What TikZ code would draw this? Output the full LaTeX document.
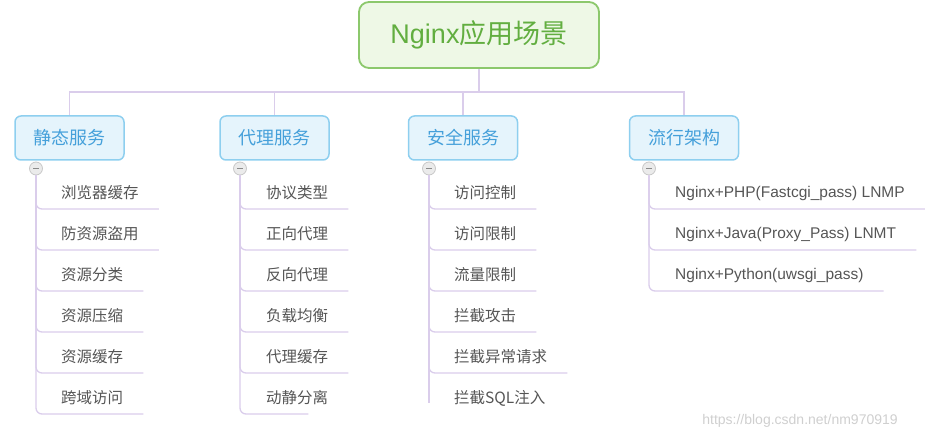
\documentclass[tikz,border=0pt]{standalone}
\usepackage{fontspec}
\setmainfont{Liberation Sans}
\newfontfamily\cjk{Noto Sans CJK SC}
\usetikzlibrary{positioning}
\definecolor{rootline}{HTML}{8CC86C}
\definecolor{rootfill}{HTML}{EEF8E6}
\definecolor{roottext}{HTML}{62AE40}
\definecolor{catline}{HTML}{8ECFEF}
\definecolor{catfill}{HTML}{E5F4FC}
\definecolor{cattext}{HTML}{45A0DA}
\definecolor{leaftext}{HTML}{555555}
\definecolor{branchcol}{HTML}{DACDEB}
\definecolor{foldline}{HTML}{C8C8C8}
\definecolor{foldfill}{HTML}{EBEBEB}
\definecolor{foldminus}{HTML}{8A8A8A}
\definecolor{marktext}{HTML}{CFCFCF}
\tikzset{
  root/.style={draw=rootline, fill=rootfill, line width=1.8pt, rounded corners=10pt,
    minimum width=240pt, minimum height=66pt, text=roottext, font=\fontsize{27}{30}\selectfont},
  cat/.style={draw=catline, fill=catfill, line width=1.5pt, rounded corners=6pt,
    minimum width=109pt, minimum height=44pt, text=cattext, font=\cjk\fontsize{18}{20}\selectfont},
  leaf/.style={anchor=west, inner sep=0pt, text=leaftext, font=\cjk\fontsize{15.5}{17}\selectfont},
  arch/.style={leaf, font=\fontsize{15.5}{17}\selectfont},
  fold/.style={circle, draw=foldline, fill=foldfill, minimum size=13pt, inner sep=0pt, line width=0.8pt},
  branch/.style={draw=branchcol, line width=1.3pt, rounded corners=6pt},
}
\newcommand{\foldmark}{\textcolor{foldminus}{\rule{6pt}{1.8pt}}}

\begin{document}
\begin{tikzpicture}[x=1pt,y=-1pt]
  \useasboundingbox (0,0) rectangle (929,438);
  \draw (479,35) node[root] (nginx) {Nginx{\cjk 应用场景}};
    \draw (69.5,138) node[cat] (static) {静态服务};
    \draw (274.5,138) node[cat] (proxy) {代理服务};
    \draw (463,138) node[cat] (secure) {安全服务};
    \draw (684,138) node[cat] (arch) {流行架构};

    \draw (36,168.5) node[fold] (m-static) {\foldmark};
    \draw (240,168.5) node[fold] (m-proxy) {\foldmark};
    \draw (429,168.5) node[fold] (m-secure) {\foldmark};
    \draw (649,168.5) node[fold] (m-arch) {\foldmark};

	     \draw (61,193) node[leaf] (s1) {浏览器缓存};
	     \draw (61,234) node[leaf] (s2) {防资源盗用};
	     \draw (61,275) node[leaf] (s3) {资源分类};
	     \draw (61,316) node[leaf] (s4) {资源压缩};
	     \draw (61,357) node[leaf] (s5) {资源缓存};
	     \draw (61,398) node[leaf] (s6) {跨域访问};

	     \draw (266,193) node[leaf] (p1) {协议类型};
	     \draw (266,234) node[leaf] (p2) {正向代理};
	     \draw (266,275) node[leaf] (p3) {反向代理};
	     \draw (266,316) node[leaf] (p4) {负载均衡};
	     \draw (266,357) node[leaf] (p5) {代理缓存};
	     \draw (266,398) node[leaf] (p6) {动静分离};

	     \draw (454,193) node[leaf] (a1) {访问控制};
	     \draw (454,234) node[leaf] (a2) {访问限制};
	     \draw (454,275) node[leaf] (a3) {流量限制};
	     \draw (454,316) node[leaf] (a4) {拦截攻击};
	     \draw (454,357) node[leaf] (a5) {拦截异常请求};
	     \draw (454,398) node[leaf] (a6) {拦截SQL注入};

	     \draw (675,193) node[arch] (l1) {Nginx+PHP(Fastcgi\_pass) LNMP};
	     \draw (675,234) node[arch] (l2) {Nginx+Java(Proxy\_Pass) LNMT};
	     \draw (675,275) node[arch] (l3) {Nginx+Python(uwsgi\_pass)};

    \draw (800,421) node[text=marktext, font=\fontsize{14}{16}\selectfont] (mark) {https://blog.csdn.net/nm970919};

     \coordinate (bar) at (479,92);
     \coordinate (cut) at (429,403);
     \path[branch] (nginx.south) -- (bar);
     \path[branch,rounded corners=0pt] (static.north) |- (bar);
     \path[branch,rounded corners=0pt] (proxy.north) |- (bar);
     \path[branch,rounded corners=0pt] (secure.north) |- (bar);
     \path[branch,rounded corners=0pt] (arch.north) |- (bar);

     \path[branch] (m-static.south) |- ([shift={(20,16)}]s1.east);
     \path[branch] (m-static.south) |- ([shift={(20,16)}]s2.east);
     \path[branch] (m-static.south) |- ([shift={(20,16)}]s3.east);
     \path[branch] (m-static.south) |- ([shift={(20,16)}]s4.east);
     \path[branch] (m-static.south) |- ([shift={(20,16)}]s5.east);
     \path[branch] (m-static.south) |- ([shift={(20,16)}]s6.east);

     \path[branch] (m-proxy.south) |- ([shift={(20,16)}]p1.east);
     \path[branch] (m-proxy.south) |- ([shift={(20,16)}]p2.east);
     \path[branch] (m-proxy.south) |- ([shift={(20,16)}]p3.east);
     \path[branch] (m-proxy.south) |- ([shift={(20,16)}]p4.east);
     \path[branch] (m-proxy.south) |- ([shift={(20,16)}]p5.east);
     \path[branch] (m-proxy.south) |- ([shift={(-20,16)}]p6.east);

     \path[branch] (m-secure.south) |- ([shift={(20,16)}]a1.east);
     \path[branch] (m-secure.south) |- ([shift={(20,16)}]a2.east);
     \path[branch] (m-secure.south) |- ([shift={(20,16)}]a3.east);
     \path[branch] (m-secure.south) |- ([shift={(20,16)}]a4.east);
     \path[branch] (m-secure.south) |- ([shift={(20,16)}]a5.east);
     \path[branch] (m-secure.south) -- (cut);

     \path[branch] (m-arch.south) |- ([shift={(20,16)}]l1.east);
     \path[branch] (m-arch.south) |- ([shift={(20,16)}]l2.east);
     \path[branch] (m-arch.south) |- ([shift={(20,16)}]l3.east);
\end{tikzpicture}
\end{document}
